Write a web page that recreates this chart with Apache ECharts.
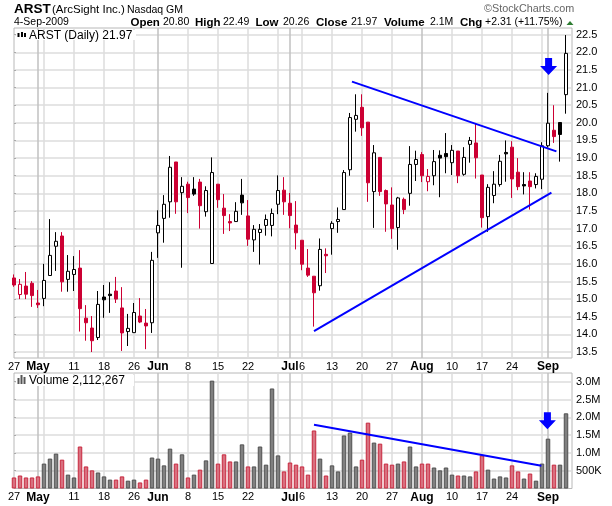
<!DOCTYPE html>
<html>
<head>
<meta charset="utf-8">
<style>html,body{margin:0;padding:0;background:#fff}#main{width:612px;height:506px}</style>
<script src="https://cdn.jsdelivr.net/npm/echarts@6/dist/echarts.min.js"></script>
</head>
<body>
<div id="main"></div>
<script>
const days = ['4/27','4/28','4/29','4/30','5/1','5/4','5/5','5/6','5/7','5/8','5/11','5/12','5/13','5/14','5/15','5/18','5/19','5/20','5/21','5/22','5/26','5/27','5/28','5/29',
	'6/1','6/2','6/3','6/4','6/5','6/8','6/9','6/10','6/11','6/12','6/15','6/16','6/17','6/18','6/19','6/22','6/23','6/24','6/25','6/26','6/29','6/30',
	'7/1','7/2','7/6','7/7','7/8','7/9','7/10','7/13','7/14','7/15','7/16','7/17','7/20','7/21','7/22','7/23','7/24','7/27','7/28','7/29','7/30','7/31',
	'8/3','8/4','8/5','8/6','8/7','8/10','8/11','8/12','8/13','8/14','8/17','8/18','8/19','8/20','8/21','8/24','8/25','8/26','8/27','8/28','8/31',
	'9/1','9/2','9/3','9/4',''];

const opens = [15.6,15.13,15.37,15.45,14.89,15.02,15.67,16.5,16.79,15.56,15.7,15.88,14.46,14.18,13.91,15.06,15.14,15.23,14.75,14.08,14.05,14.52,14.32,14.33,
	16.88,17.29,17.76,18.89,18.02,18.26,18.12,18.32,17.48,16.01,18.26,17.58,17.2,17.2,17.95,17.36,16.68,16.89,17.09,17.09,17.69,18.09,
	17.72,17.1,16.67,15.88,15.65,15.38,16.27,17,17.2,17.54,18.67,20.1,20.44,20.02,18.05,19.02,18.08,17.67,17.03,17.83,18,18.82,
	19.1,18.33,18.5,19.08,19.13,18.87,19.2,18.54,19.39,19.43,18.52,17.34,17.94,18.25,19.16,19.31,18.6,18.25,18.35,18.25,18.4,
	19.35,19.79,20.01,20.8];
const closes = [15.4,15.42,15.14,15.1,14.84,15.53,16.24,16.64,15.49,15.79,15.84,14.73,14.33,13.82,14.85,14.98,15.1,15,14.04,14.17,14.62,14.35,14.24,16.1,
	17.09,17.69,18.74,17.76,18.2,17.88,17.98,17.65,18.08,18.59,17.82,17.37,17.16,17.49,17.73,16.7,16.98,16.98,17.26,17.43,18.08,17.76,
	17.37,16.88,15.99,15.68,15.18,16.41,16.23,17.15,17.26,18.59,20.15,20.21,19.86,18.3,19.15,18.05,17.7,17,17.87,17.54,18.82,18.96,
	18.5,18.48,18.9,19,19.04,19.22,18.5,19.02,19.5,19.01,17.31,18.17,18.26,18.91,19.12,18.41,18.19,18.21,18.19,18.48,19.35,
	19.99,19.61,19.67,21.97];
const lows = [15.35,15,15,14.78,14.75,14.8,15.67,15.8,15.21,15.21,15.23,14.08,13.82,13.5,13.84,14.47,14.61,14.89,13.53,13.67,14.05,14.32,13.58,14.04,
	16.17,16.6,17.31,17.42,15.89,17.44,17.93,17,17.34,16.01,17.59,16.85,16.93,17.2,17.39,16.51,16.34,15.98,16.8,16.78,17.41,17.39,
	17.01,16.41,15.82,15.63,14.22,15.24,15.74,16.26,16.88,17.54,18.5,19.75,19.63,17.76,17.02,17.93,16.91,16.71,16.4,17.41,17.65,18.35,
	18.32,18.06,18.23,17.89,18.57,18.52,18.29,18.5,18.87,18.42,17.03,16.91,17.72,18.19,18.33,17.87,18.09,17.97,17.54,18.14,18.12,
	19.3,19.43,18.9,20.26];
const highs = [15.7,15.57,15.77,15.51,15.26,16,17.27,16.9,16.9,16.25,16.22,16.39,14.83,14.52,15.23,15.4,15.48,15.63,15.34,14.58,14.89,15.03,14.72,16.34,
	17.52,17.95,19.06,18.89,18.46,18.33,18.46,18.41,18.2,19.02,18.26,17.98,17.41,17.75,18.41,17.81,17.1,17.13,17.4,17.57,18.51,18.46,
	18.01,17.78,16.67,16.42,15.65,16.72,16.44,17.21,17.6,18.66,20.28,20.81,20.81,20.02,19.37,19.02,18.11,18.17,17.9,17.88,19.34,19.21,
	19.17,18.69,19.23,19.22,19.71,19.37,19.2,19.31,19.6,19.97,18.52,18.26,18.63,19.09,19.5,19.48,19,18.6,18.6,18.57,19.45,
	20.85,20.5,20.01,22.49];
const volumes = [0.31,0.365,0.31,0.31,0.34,0.7,0.84,0.98,0.81,0.39,0.31,1.18,0.62,0.51,0.45,0.34,0.25,0.25,0.34,0.22,0.25,0.17,0.25,0.87,
	0.84,0.65,1.12,0.7,0.96,0.31,0.39,0.53,0.79,3.03,0.7,0.96,0.76,0.76,1.24,0.62,0.62,1.18,0.67,2.81,0.93,0.48,
	0.73,0.67,0.62,0.39,1.63,0.84,0.365,0.65,0.48,1.49,1.57,0.62,0.81,1.85,1.29,1.26,0.7,0.67,0.7,0.76,1.18,0.62,
	0.7,0.7,0.59,0.51,0.59,0.39,0.365,0.365,0.34,0.48,0.93,0.53,0.28,0.34,0.31,0.65,0.48,0.28,0.42,0.22,0.7,
	1.4,0.67,0.67,2.112];
// 1 = close below the previous close (red bar)
const downDay = [1,1,1,1,1,0,0,0,1,0,0,1,1,1,0,0,0,1,1,0,0,1,1,0,
	0,0,0,1,0,1,0,1,0,0,1,1,1,0,0,1,0,0,0,0,0,1,
	1,1,1,1,1,0,1,0,0,0,0,0,1,1,0,1,1,1,0,1,0,0,
	1,1,0,0,0,0,1,0,0,1,1,0,0,0,0,1,1,0,1,0,0,
	0,1,0,0];

const weekTicks = [5,10,15,20,29,34,39,44,48,53,58,63,73,78,83,88];
const monthTicks = [4,24,46,68,89];
const xLabels = {0:'27',4:'May',10:'11',15:'18',20:'26',24:'Jun',29:'8',34:'15',39:'22',46:'Jul',48:'6',53:'13',58:'20',63:'27',68:'Aug',73:'10',78:'17',83:'24',89:'Sep'};
const priceTicks = [13.5,14,14.5,15,15.5,16,16.5,17,17.5,18,18.5,19,19.5,20,20.5,21,21.5,22,22.5];
const volumeTicks = [0.5,1,1.5,2,2.5,3];

// trend lines and arrows, [bar number, value]
const upperTrend = [[56.33,21.17],[90.4,19.19]];
const lowerTrend = [[50,14.09],[89.57,18.02]];
const volumeTrend = [[50,1.79],[87.9,0.64]];
const priceArrow = [[89.1,21.6]];
const volumeArrow = [[88.9,1.9]];

const BLACK = '#000';
const RED = '#cc0033';
const ARROW = 'path://M5 0H12V8H17L8.5 17L0 8H5Z';
const FONT = '"Liberation Sans", Arial, sans-serif';

const candleData = opens.map((o, i) => {
	const c = downDay[i] ? RED : BLACK;
	// hollow when it closed above its open, solid otherwise
	const fill = closes[i] > o ? '#fff' : c;
	return {
		value: [o, closes[i], lows[i], highs[i]],
		itemStyle: { color: fill, color0: fill, borderColor: c, borderColor0: c, borderColorDoji: c }
	};
});
const volumeData = volumes.map((v, i) => ({
	value: v,
	itemStyle: downDay[i]
		? { color: '#d8707f', borderColor: '#c8283f', borderWidth: 1 }
		: { color: '#808080', borderColor: '#505050', borderWidth: 1 }
}));

function xAxes(gridIndex) {
	const base = { type: 'category', gridIndex: gridIndex, data: days, boundaryGap: false,
		axisLine: { show: false, onZero: false }, axisTick: { show: false } };
	return [
		Object.assign({}, base, {
			position: 'bottom',
			axisLabel: {
				interval: i => xLabels[i] !== undefined,
				margin: 3,
				hideOverlap: false,
				fontFamily: FONT, fontSize: 11, color: '#000',
				formatter: (v, i) => monthTicks.includes(i) ? '{b|' + xLabels[i] + '}' : xLabels[i],
				rich: { b: { fontFamily: FONT, fontSize: 12, fontWeight: 'bold', color: '#000' } }
			},
			splitLine: { show: true, interval: i => weekTicks.includes(i), lineStyle: { color: '#dcdcdc', width: 1.5 } }
		}),
		Object.assign({}, base, {
			position: 'top',
			axisLabel: { show: false },
			splitLine: { show: true, interval: i => monthTicks.includes(i), lineStyle: { color: '#c0c0c0', width: 1.5 } }
		}),
		{ type: 'value', gridIndex: gridIndex, min: 0, max: 93, show: false, splitLine: { show: false } }
	];
}

function yAxis(gridIndex, min, max, ticks, fmt) {
	return {
		type: 'value', gridIndex: gridIndex, position: 'right', min: min, max: max, scale: true,
		axisLine: { show: false },
		axisTick: { show: true, length: 2, customValues: ticks, lineStyle: { color: '#aaa' } },
		axisLabel: { customValues: ticks, margin: 4, fontFamily: FONT, fontSize: 11, color: '#000', formatter: fmt },
		splitLine: { show: true, lineStyle: { color: '#dcdcdc', width: 1.5 } }
	};
}

function overlayLine(xIdx, yIdx, data) {
	return { type: 'line', xAxisIndex: xIdx, yAxisIndex: yIdx, data: data, symbol: 'none', silent: true, z: 5,
		lineStyle: { color: '#0000ff', width: 2 } };
}
function overlayArrow(xIdx, yIdx, data) {
	return { type: 'scatter', xAxisIndex: xIdx, yAxisIndex: yIdx, data: data, symbol: ARROW, symbolSize: [17, 17], silent: true, z: 6,
		itemStyle: { color: '#0000ff', opacity: 1 } };
}

function txt(x, y, text, size, bold, fill) {
	return { type: 'text', x: x, y: y, z: 20, style: {
		text: text, fill: fill || '#000', verticalAlign: 'middle',
		font: (bold ? 'bold ' : '') + size + 'px ' + FONT } };
}
function box(x, y, w, h, fill, z) {
	return { type: 'rect', z: z || 21, shape: { x: x, y: y, width: w, height: h }, style: { fill: fill } };
}

const graphics = [
	txt(14, 9, 'ARST', 13.5, true),
	txt(52, 9.5, '(ArcSight Inc.)', 11.5),
	txt(127, 10, 'Nasdaq GM', 10.5),
	txt(14, 22.5, '4-Sep-2009', 10.5),
	txt(130.5, 22.5, 'Open', 11.5, true), txt(163, 22.5, '20.80', 10.5),
	txt(195, 22.5, 'High', 11.5, true), txt(223, 22.5, '22.49', 10.5),
	txt(255.5, 22.5, 'Low', 11.5, true), txt(283, 22.5, '20.26', 10.5),
	txt(316, 22.5, 'Close', 11.5, true), txt(351, 22.5, '21.97', 10.5),
	txt(384, 22.5, 'Volume', 11.5, true), txt(430, 22.5, '2.1M', 10.5),
	txt(460, 22.5, 'Chg', 11.5, true), txt(485, 22.5, '+2.31 (+11.75%)', 10.5),
	txt(484, 9.5, '\u00a9StockCharts.com', 10.8, false, '#666'),
	{ type: 'polygon', z: 21, shape: { points: [[566.5, 25], [570, 21], [573.5, 25]] }, style: { fill: '#2e7d32' } },
	// panel legends
	box(16, 30, 120, 10, '#fff', 19),
	txt(29, 35.5, 'ARST (Daily) 21.97', 12),
	box(17.5, 33, 2, 4, BLACK), box(21, 32, 2, 5, BLACK), box(24, 33, 2, 4, BLACK),
	box(16, 375, 118, 11, '#fff', 19),
	txt(29, 380.5, 'Volume 2,112,267', 12),
	box(17.5, 378, 2, 6, '#555'), box(20.5, 375, 2, 9, '#555'), box(23.5, 377, 2, 7, '#555')
];

const option = {
	animation: false,
	backgroundColor: '#fff',
	graphic: graphics,
	grid: [
		{ left: 14, top: 28, width: 558, height: 330, show: true, borderColor: '#b8b8b8', borderWidth: 1, backgroundColor: '#fff' },
		{ left: 14, top: 373, width: 558, height: 115.5, show: true, borderColor: '#b8b8b8', borderWidth: 1, backgroundColor: '#fff' }
	],
	xAxis: xAxes(0).concat(xAxes(1)),
	yAxis: [
		yAxis(0, 13.33, 22.69, priceTicks, v => v.toFixed(1)),
		yAxis(1, 0, 3.245, volumeTicks, v => v >= 1 ? v.toFixed(1) + 'M' : (v * 1000) + 'K')
	],
	series: [
		{ type: 'candlestick', xAxisIndex: 0, yAxisIndex: 0, data: candleData, barWidth: 4, silent: true, z: 3 },
		{ type: 'bar', xAxisIndex: 3, yAxisIndex: 1, data: volumeData, barWidth: 4.5, silent: true, z: 3 },
		overlayLine(2, 0, upperTrend),
		overlayLine(2, 0, lowerTrend),
		overlayLine(5, 1, volumeTrend),
		overlayArrow(2, 0, priceArrow),
		overlayArrow(5, 1, volumeArrow)
	]
};

const myChart = echarts.init(document.getElementById('main'));
myChart.setOption(option);
</script>
</body>
</html>
